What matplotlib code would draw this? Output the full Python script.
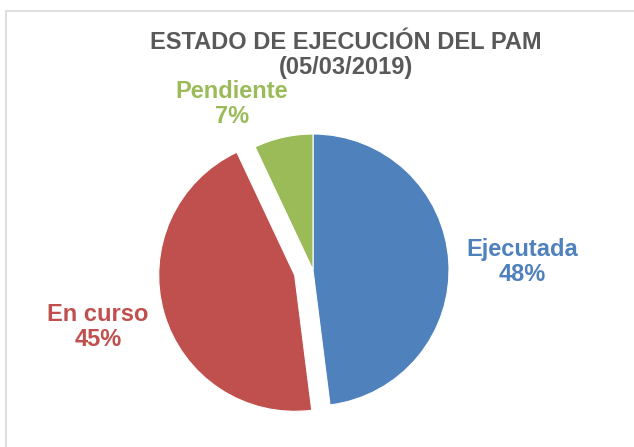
import matplotlib.pyplot as plt
from matplotlib.patches import Rectangle

plt.rcParams['font.family'] = ['Liberation Sans', 'DejaVu Sans']

labels = ['Ejecutada', 'En curso', 'Pendiente']
values = [48, 45, 7]
colors = ['#4F81BD', '#C0504D', '#9BBB59']
explode = [0, 0.14, 0]
# label positions in pie radius units
label_pos = [(1.535, 0.06), (-1.58, -0.42), (-0.596, 1.22)]

W, H = 634, 447
fig = plt.figure(figsize=(W / 100, H / 100), dpi=100)

# pie centre (313, 270) px, radius 136 px
cx, cy, r = 313, 270, 136
half = 1.3 * r
ax = fig.add_axes([(cx - half) / W, (H - cy - half) / H, 2 * half / W, 2 * half / H])
ax.pie(values, colors=colors, explode=explode, startangle=90, counterclock=False,
       wedgeprops=dict(edgecolor='white', linewidth=0.8))
ax.set_xlim(-1.3, 1.3)
ax.set_ylim(-1.3, 1.3)
ax.set_aspect('equal')
ax.axis('off')

for name, v, c, (x, y) in zip(labels, values, colors, label_pos):
    ax.text(x, y, f'{name}\n{v}%', color=c, fontsize=17, fontweight='bold',
            ha='center', va='center', linespacing=1.12)

fig.text(346 / W, 1 - 55 / H, 'ESTADO DE EJECUCIÓN DEL PAM\n(05/03/2019)',
         ha='center', va='center', fontsize=17, fontweight='bold', color='#595959',
         linespacing=1.08)

# chart border (top and left visible)
fig.patches.append(Rectangle((6 / W, -0.05), 1.2, 0.05 + (H - 11) / H, transform=fig.transFigure,
                             fill=False, edgecolor='#D9D9D9', linewidth=1.2))

fig.savefig('out.png', dpi=100)
